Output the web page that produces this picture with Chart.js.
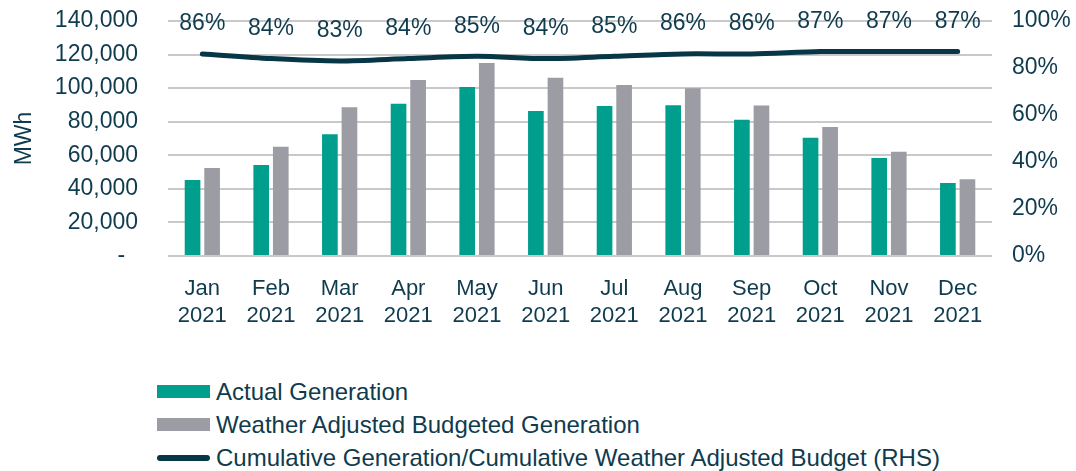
<!DOCTYPE html>
<html>
<head>
<meta charset="utf-8">
<script src="https://cdn.jsdelivr.net/npm/chart.js@4.4.1/dist/chart.umd.min.js"></script>
<style>
  body { margin: 0; background: #fff; font-family: 'Liberation Sans', Arial, sans-serif; }
  #wrap { position: relative; width: 1076px; height: 345px; }
  #legend { position: absolute; left: 157px; top: 375px; color: #0f3b4e; }
  .row { height: 33px; display: flex; align-items: center; }
  .sw { width: 53px; margin-right: 6px; }
  .lbl { font-size: 24px; white-space: nowrap; }
</style>
</head>
<body>
<div id="wrap"><canvas id="genChart"></canvas></div>
<div id="legend"></div>
<script>
const months = ['Jan', 'Feb', 'Mar', 'Apr', 'May', 'Jun', 'Jul', 'Aug', 'Sep', 'Oct', 'Nov', 'Dec'];
const year = '2021';
const actualGen = [45300, 54200, 72500, 90700, 100700, 86400, 89400, 89800, 81200, 70500, 58400, 43500];
const budgetGen = [52400, 65100, 88600, 104800, 115000, 106200, 101900, 99900, 89600, 76900, 62100, 45700];
const cumRatio = [86, 84, 83, 84, 85, 84, 85, 86, 86, 87, 87, 87];
const seriesNames = ['Actual Generation', 'Weather Adjusted Budgeted Generation', 'Cumulative Generation/Cumulative Weather Adjusted Budget (RHS)'];

const textColor = '#0f3b4e';
const tealColor = '#009e8c';
const greyColor = '#9b9ca4';
const lineColor = '#073747';
const gridColor = '#c9c9c9';
const fontFam = '"Liberation Sans", Arial, sans-serif';

// percent labels above the line
const lineLabels = {
    id: 'lineLabels',
    afterDatasetsDraw(chart) {
        const meta = chart.getDatasetMeta(2);
        const c = chart.ctx;
        c.save();
        c.font = '23px ' + fontFam;
        c.fillStyle = textColor;
        c.textAlign = 'center';
        c.textBaseline = 'middle';
        meta.data.forEach((pt, i) => {
            c.fillText(cumRatio[i] + '%', pt.x, pt.y - 30);
        });
        c.restore();
    }
};

const ctx = document.getElementById('genChart').getContext('2d');

const chart = new Chart(ctx, {
    type: 'bar',
    data: {
        labels: months.map(m => [m, year]),
        datasets: [{
            label: seriesNames[0],
            data: actualGen,
            backgroundColor: tealColor,
            yAxisID: 'y',
            order: 1,
            categoryPercentage: 0.57,
            barPercentage: 0.8
        }, {
            label: seriesNames[1],
            data: budgetGen,
            backgroundColor: greyColor,
            yAxisID: 'y',
            order: 1,
            categoryPercentage: 0.57,
            barPercentage: 0.8
        }, {
            type: 'line',
            label: seriesNames[2],
            data: cumRatio,
            borderColor: lineColor,
            borderWidth: 5,
            borderCapStyle: 'round',
            pointRadius: 0,
            tension: 0.3,
            yAxisID: 'y1',
            order: 0
        }]
    },
    options: {
        responsive: true,
        maintainAspectRatio: false,
        animation: false,
        layout: { padding: 0 },
        scales: {
            x: {
                grid: { display: false },
                border: { display: false },
                ticks: {
                    color: textColor,
                    font: { family: fontFam, size: 22, lineHeight: 1.2 },
                    padding: 12,
                    maxRotation: 0,
                    autoSkip: false
                },
                afterFit(scale) { scale.height = 89; }
            },
            y: {
                position: 'left',
                min: 0,
                max: 140000,
                ticks: {
                    stepSize: 20000,
                    autoSkip: false,
                    color: textColor,
                    padding: 30,
                    font: { family: fontFam, size: 23 },
                    callback: v => v === 0 ? '-  ' : v.toLocaleString('en-US')
                },
                grid: { color: gridColor, lineWidth: 2, drawTicks: false },
                border: { display: false },
                title: {
                    display: true,
                    text: 'MWh',
                    color: textColor,
                    font: { family: fontFam, size: 23 },
                    padding: { top: 11, bottom: 0 }
                },
                afterFit(scale) {
                    scale.width = 168;
                    scale.paddingTop = 21;
                    scale.paddingBottom = 0;
                }
            },
            y1: {
                position: 'right',
                min: 0,
                max: 100,
                ticks: {
                    stepSize: 20,
                    autoSkip: false,
                    color: textColor,
                    padding: 20,
                    font: { family: fontFam, size: 23 },
                    callback: v => v + '%'
                },
                grid: { display: false, drawTicks: false },
                border: { display: false },
                afterFit(scale) {
                    scale.width = 84;
                    scale.paddingTop = 21;
                    scale.paddingBottom = 0;
                }
            }
        },
        plugins: {
            legend: { display: false },
            tooltip: { enabled: false }
        }
    },
    plugins: [lineLabels]
});

// legend below the chart
const legend = document.getElementById('legend');
chart.data.datasets.forEach(ds => {
    const row = document.createElement('div');
    row.className = 'row';
    const sw = document.createElement('div');
    sw.className = 'sw';
    if (ds.type === 'line') {
        sw.style.height = '6px';
        sw.style.borderRadius = '3px';
        sw.style.background = ds.borderColor;
    } else {
        sw.style.height = '13px';
        sw.style.background = ds.backgroundColor;
    }
    const lbl = document.createElement('span');
    lbl.className = 'lbl';
    lbl.textContent = ds.label;
    row.appendChild(sw);
    row.appendChild(lbl);
    legend.appendChild(row);
});
</script>
</body>
</html>
